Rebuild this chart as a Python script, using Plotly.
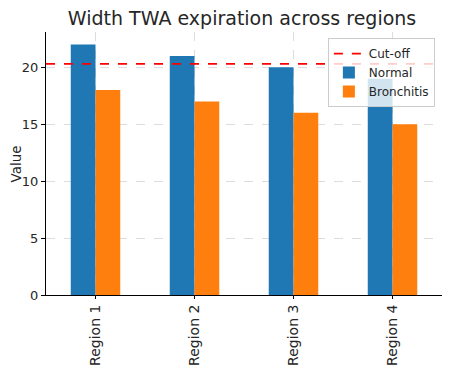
import plotly.graph_objects as go

regions = ["Region 1", "Region 2", "Region 3", "Region 4"]
normal = [22, 21, 20, 19]
bronchitis = [18, 17, 16, 15]
cutoff = 20.3

font_family = "DejaVu Sans"
fig = go.Figure()

# cut-off line on an overlay axis spanning the full width
fig.add_trace(go.Scatter(
    x=[0, 1], y=[cutoff, cutoff], xaxis="x2", mode="lines",
    line=dict(color="#ff0000", dash="dash", width=1.8), name="Cut-off",
))
fig.add_trace(go.Bar(x=regions, y=normal, name="Normal", marker_color="#1f77b4",
                     marker_line=dict(width=0)))
fig.add_trace(go.Bar(x=regions, y=bronchitis, name="Bronchitis", marker_color="#ff7f0e",
                     marker_line=dict(width=0)))

# page body has an 8px margin, so the figure is sized to fit the window
fig.update_layout(
    width=451, height=362,
    margin=dict(l=38, r=17, t=24, b=75),
    paper_bgcolor="white", plot_bgcolor="white",
    barmode="group", bargap=0.5, bargroupgap=0,
    font=dict(family=font_family, size=12, color="#262626"),
    title=dict(text="Width TWA expiration across regions", x=0.519, xanchor="center",
               y=0.972, yanchor="middle", font=dict(size=19, color="#262626")),
    showlegend=True,
    legend=dict(x=0.982, y=0.977, xanchor="right", yanchor="top",
                bgcolor="rgba(255,255,255,0.8)", bordercolor="#cccccc", borderwidth=1,
                font=dict(size=12), tracegroupgap=0, itemwidth=30),
    xaxis=dict(
        range=[-0.5, 3.5], showline=True, linecolor="black", linewidth=1,
        ticks="outside", ticklen=3, tickcolor="black", tickangle=-90,
        showgrid=True, gridcolor="#dddddd", griddash="dash", gridwidth=1,
        tickfont=dict(size=14), automargin=False,
    ),
    xaxis2=dict(overlaying="x", range=[0, 1], visible=False),
    yaxis=dict(
        range=[0, 23.1], showline=True, linecolor="black", linewidth=1,
        ticks="outside", ticklen=4, tickcolor="black", tickvals=[0, 5, 10, 15, 20],
        showgrid=True, gridcolor="#dddddd", griddash="dash", gridwidth=1,
        zeroline=False, tickfont=dict(size=13), automargin=False,
    ),
    annotations=[dict(text="Value", xref="paper", yref="paper", x=-0.076, y=0.5,
                      xanchor="center", yanchor="middle", textangle=-90,
                      showarrow=False, font=dict(size=13.5, color="#262626"))],
)

fig.write_html("out.html")
